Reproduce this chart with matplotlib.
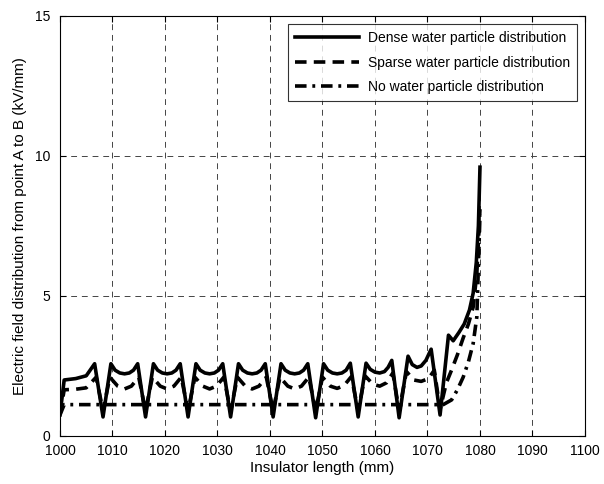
import matplotlib
matplotlib.use("Agg")
import matplotlib.pyplot as plt

plt.rcParams['font.family'] = ['Liberation Sans', 'DejaVu Sans']

# Dense water particles
dense_x = [1000.0, 1000.8, 1003.0, 1005.0, 1006.6, 1008.2,
           1009.7, 1010.5, 1011.4, 1012.3, 1013.2, 1014.0, 1014.8, 1016.3,
           1017.8, 1018.6, 1019.5, 1020.4, 1021.3, 1022.1, 1022.9, 1024.4,
           1025.9, 1026.7, 1027.6, 1028.5, 1029.4, 1030.2, 1031.0, 1032.5,
           1034.0, 1034.8, 1035.7, 1036.6, 1037.5, 1038.3, 1039.1, 1040.6,
           1042.1, 1042.9, 1043.8, 1044.7, 1045.6, 1046.4, 1047.2, 1048.7,
           1050.2, 1051.0, 1051.9, 1052.8, 1053.7, 1054.5, 1055.3, 1056.8,
           1058.3, 1059.1, 1060.0, 1060.9, 1061.8, 1062.5, 1063.2, 1064.6,
           1066.3, 1067.1, 1068.0, 1068.8, 1069.7, 1070.7, 1072.4,
           1074.0, 1074.9, 1076.0, 1077.0, 1078.0, 1078.7, 1079.3, 1079.7, 1080.0]
dense_y = [0.75, 2.00, 2.05, 2.15, 2.58, 0.68,
           2.58, 2.35, 2.25, 2.22, 2.25, 2.35, 2.58, 0.68,
           2.58, 2.35, 2.25, 2.22, 2.25, 2.35, 2.58, 0.68,
           2.58, 2.35, 2.25, 2.22, 2.25, 2.35, 2.58, 0.68,
           2.58, 2.35, 2.25, 2.22, 2.25, 2.35, 2.58, 0.68,
           2.58, 2.35, 2.25, 2.22, 2.25, 2.35, 2.58, 0.65,
           2.58, 2.35, 2.25, 2.22, 2.25, 2.35, 2.60, 0.68,
           2.60, 2.38, 2.28, 2.25, 2.30, 2.45, 2.70, 0.65,
           2.85, 2.55, 2.45, 2.50, 2.70, 3.10, 0.75,
           3.60, 3.40, 3.70, 4.00, 4.50, 5.10, 6.20, 7.50, 9.60]

# Sparse water particles
sparse_x = [1000.0, 1000.8, 1003.0, 1005.0, 1006.9, 1008.2,
            1009.5, 1011.0, 1012.3, 1013.6, 1015.0, 1016.3,
            1017.6, 1019.1, 1020.4, 1021.7, 1023.1, 1024.4,
            1025.7, 1027.2, 1028.5, 1029.8, 1031.2, 1032.5,
            1033.8, 1035.3, 1036.6, 1037.9, 1039.3, 1040.6,
            1041.9, 1043.4, 1044.7, 1046.0, 1047.4, 1048.7,
            1050.0, 1051.5, 1052.8, 1054.1, 1055.5, 1056.8,
            1058.1, 1059.6, 1060.9, 1062.2, 1063.4, 1064.6,
            1066.0, 1067.4, 1068.8, 1070.2, 1071.3, 1072.4,
            1073.6, 1074.6, 1075.7, 1076.8, 1077.8, 1078.7, 1079.4, 1080.0]
sparse_y = [0.75, 1.65, 1.67, 1.72, 2.10, 0.90,
            2.10, 1.78, 1.68, 1.78, 2.10, 0.90,
            2.10, 1.78, 1.68, 1.78, 2.10, 0.90,
            2.10, 1.78, 1.68, 1.78, 2.10, 0.90,
            2.10, 1.78, 1.68, 1.78, 2.10, 0.90,
            2.10, 1.78, 1.68, 1.78, 2.10, 0.90,
            2.10, 1.78, 1.70, 1.80, 2.12, 0.90,
            2.15, 1.85, 1.78, 1.90, 2.25, 0.90,
            2.30, 2.00, 1.95, 2.05, 2.35, 0.95,
            1.90, 2.36, 2.90, 3.50, 4.00, 4.60, 5.80, 8.10]

# No water particles
none_x = [1000.0, 1000.8, 1010.0, 1020.0, 1030.0, 1040.0, 1050.0, 1060.0,
          1070.0, 1073.0, 1074.6, 1075.7, 1076.8, 1077.8, 1078.7, 1079.4, 1080.0]
none_y = [0.75, 1.12, 1.12, 1.12, 1.12, 1.12, 1.12, 1.12,
          1.12, 1.12, 1.29, 1.65, 2.10, 2.65, 3.30, 4.25, 7.90]

x_ticks = [1000, 1010, 1020, 1030, 1040, 1050, 1060, 1070, 1080, 1090, 1100]
y_ticks = [0, 5, 10, 15]

fig = plt.figure(figsize=(6.04, 4.84), dpi=100)
ax = fig.add_axes([0.0993, 0.0992, 0.8692, 0.8678])

ax.plot(dense_x, dense_y, color='black', lw=2.6, solid_joinstyle='round',
        label='Dense water particle distribution')
ax.plot(sparse_x, sparse_y, color='black', lw=2.6, linestyle=(0, (3.2, 2.0)),
        label='Sparse water particle distribution')
ax.plot(none_x, none_y, color='black', lw=2.6, linestyle=(0, (3.2, 1.6, 0.8, 1.6)),
        label='No water particle distribution')

ax.set_xlim(1000, 1100)
ax.set_ylim(0, 15)
ax.set_xticks(x_ticks)
ax.set_yticks(y_ticks)
ax.grid(True, color='#444444', linestyle=(0, (6, 5)), linewidth=0.7)
ax.tick_params(direction='in', top=True, right=True, labelsize=10, length=4)
ax.tick_params(axis='x', pad=6)
ax.tick_params(axis='y', pad=7)
for s in ax.spines.values():
    s.set_linewidth(0.8)

ax.set_xlabel('Insulator length (mm)', fontsize=11, labelpad=2)
ax.set_ylabel('Electric field distribution from point A to B (kV/mm)', fontsize=11, labelpad=6)

leg = ax.legend(loc='upper right', fontsize=10, handlelength=4.6, frameon=True,
                fancybox=False, edgecolor='black', borderaxespad=0.6,
                labelspacing=0.75, handletextpad=0.6, borderpad=0.5)
leg.get_frame().set_linewidth(0.8)

fig.savefig('out.png', dpi=100)
